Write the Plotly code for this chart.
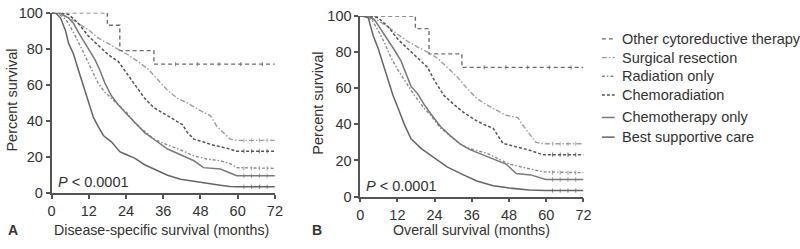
import plotly.graph_objects as go

# ---------------- data ----------------
groups = ["Other cytoreductive therapy", "Surgical resection", "Radiation only",
          "Chemoradiation", "Chemotherapy only", "Best supportive care"]

# Panel A: disease-specific survival
a_other_t = [0, 18, 18, 22, 22, 33, 33, 72]
a_other_v = [100, 100, 93, 93, 79, 79, 71.5, 71.5]

a_surg_t = [0, 2.3, 5.5, 8.7, 11.9, 15, 18.3, 21.5, 24.6, 27.8, 31, 34.2, 37.4, 40.6, 43.8, 48, 51.2, 53.3, 55.4, 57.6, 59.7, 72]
a_surg_v = [100, 99.5, 97.4, 94, 90.5, 86, 82.8, 80, 76.7, 73, 69, 63, 57, 52.6, 50, 45.7, 43, 37, 33.6, 30, 29.3, 29.3]

a_rad_t = [0, 2.5, 4.5, 6.6, 8.7, 10.8, 12.4, 15, 17.2, 20.4, 22.5, 24.6, 26.8, 30, 33, 37.4, 41.6, 45.9, 50, 54.4, 57.6, 59.7, 72]
a_rad_v = [100, 99, 96.5, 90.5, 83.6, 76, 70, 61, 56, 51, 47.4, 44, 39, 34.5, 30, 26.7, 24, 20.7, 19, 18, 16.4, 14.2, 13.8]

a_crt_t = [0, 3, 5.5, 8.7, 11.9, 15, 18.3, 21.5, 23.6, 26.8, 30, 33, 36.3, 39.5, 42.2, 43.8, 45.9, 49, 52, 56.5, 59.7, 72]
a_crt_v = [100, 99.7, 99, 94, 87, 82, 76.7, 73, 68, 60, 52.6, 47.4, 44, 40.5, 38, 33.6, 30, 28.4, 26.7, 25, 23.3, 23.3]

a_chemo_t = [0, 3, 5.5, 7.1, 8.7, 10.8, 12.4, 14, 15.6, 17.2, 19.3, 21.5, 23.6, 26.8, 30, 34.2, 37.4, 41.6, 45.9, 49, 54.4, 57.6, 59.7, 72]
a_chemo_v = [100, 99.5, 97, 94, 89, 83, 78, 74, 68, 61, 54, 49, 45, 39, 33.6, 28.4, 24.5, 21.3, 18, 14.2, 13.4, 11.2, 9.7, 9.7]

a_bsc_t = [0, 1.5, 2.9, 4.5, 5.5, 7.1, 8.7, 10.6, 12, 13.5, 15, 16.7, 19.3, 22, 24, 26.8, 30, 34, 37.4, 41.6, 48, 54.4, 57.5, 59.8, 72]
a_bsc_v = [100, 99.5, 97, 90, 83, 77, 68, 58, 51, 42, 37, 32, 28.5, 23, 21.5, 19.5, 15.8, 12.8, 10, 7.8, 6, 4.5, 3.8, 3.6, 3.6]

# Panel B: overall survival
b_other_t = [0, 17.8, 17.8, 22.2, 22.2, 32.8, 32.8, 72]
b_other_v = [100, 100, 93, 93, 79, 79, 71.5, 71.5]

b_surg_t = [0, 2.6, 5.8, 9, 12.2, 15.3, 18.5, 21.7, 24.9, 28, 31.2, 34.4, 37.6, 40.7, 43.9, 47, 50.8, 52.4, 56.6, 59, 72]
b_surg_v = [100, 99.5, 97.4, 94, 89.7, 86, 82.8, 80, 76.7, 71.6, 66.4, 60, 54.3, 50.9, 48, 45, 43.8, 39.6, 30.1, 29.2, 29.2]

b_rad_t = [0, 2, 3.7, 5.8, 7.9, 10, 12.2, 14.8, 17.5, 20.6, 22.8, 25.9, 29.1, 32.3, 35.4, 40.8, 48, 54, 58.8, 72]
b_rad_v = [100, 99.5, 98, 92, 85, 76.7, 70, 63, 56, 49, 44.8, 38, 33.6, 29, 26.5, 24, 18, 15.5, 13.7, 13.2]

b_crt_t = [0, 3, 5.8, 9, 12.2, 15.3, 18.5, 21.7, 23.8, 27, 30.2, 33.3, 36.5, 39.7, 42.9, 46, 50.3, 54, 58.8, 72]
b_crt_v = [100, 99.7, 99, 94, 87, 82, 76.7, 71.6, 64.7, 56, 51, 46.6, 43, 40, 37.8, 29.5, 27.5, 26, 23.2, 23.2]

b_chemo_t = [0, 3, 4.8, 6.9, 9, 11.1, 13.2, 14.8, 16.4, 18.5, 20.6, 22.8, 25.9, 29.1, 32.3, 35.4, 40.8, 47, 50.3, 55, 59.8, 72]
b_chemo_v = [100, 99.5, 97.4, 92, 87, 81, 75, 68, 61, 57, 51, 45.7, 38.8, 33.6, 29, 26, 22.3, 18, 12.8, 12, 9.4, 9.4]

b_bsc_t = [0, 1.5, 2.6, 4.2, 5.8, 7.4, 9, 10.6, 12.2, 14.3, 16.4, 19.6, 23.8, 28, 33.3, 37.6, 42.9, 48.1, 54.5, 59.8, 72]
b_bsc_v = [100, 99.7, 99, 89, 82, 73, 64.7, 56, 49, 39.7, 32, 26.7, 21.6, 16.4, 12, 8.6, 6, 4.7, 3.6, 3.3, 3.3]

# censoring tick times seen on the flat tails (same for both panels)
tail_censor_t = [62, 64.5, 67, 69.5]
other_censor_t = [40, 47, 54, 61, 68]

x_ticks = [0, 12, 24, 36, 48, 60, 72]
y_ticks = [0, 20, 40, 60, 80, 100]
x_title_a = "Disease-specific survival (months)"
x_title_b = "Overall survival (months)"
y_title = "Percent survival"
p_text = "<i>P</i> < 0.0001"

# ---------------- styles ----------------
styles = {
    "Other cytoreductive therapy": dict(color="#6f6f6f", dash="4px,3px", width=1.4),
    "Surgical resection": dict(color="#a0a0a0", dash="5px,2px,1.5px,2px", width=1.4),
    "Radiation only": dict(color="#8a8a8a", dash="3px,2px,1.5px,2px", width=1.4),
    "Chemoradiation": dict(color="#555555", dash="3px,2px", width=1.5),
    "Chemotherapy only": dict(color="#7a7a7a", dash="solid", width=1.5),
    "Best supportive care": dict(color="#666666", dash="solid", width=1.5),
}

panel_a = [(a_other_t, a_other_v), (a_surg_t, a_surg_v), (a_rad_t, a_rad_v),
           (a_crt_t, a_crt_v), (a_chemo_t, a_chemo_v), (a_bsc_t, a_bsc_v)]
panel_b = [(b_other_t, b_other_v), (b_surg_t, b_surg_v), (b_rad_t, b_rad_v),
           (b_crt_t, b_crt_v), (b_chemo_t, b_chemo_v), (b_bsc_t, b_bsc_v)]

fig = go.Figure()
for panel, xa, ya in [(panel_a, "x", "y"), (panel_b, "x2", "y2")]:
    for name, (t, v) in zip(groups, panel):
        st = styles[name]
        fig.add_trace(go.Scatter(x=t, y=v, mode="lines", line=st,
                                 showlegend=False, xaxis=xa, yaxis=ya, hoverinfo="skip"))
        ct = other_censor_t if name == groups[0] else tail_censor_t
        fig.add_trace(go.Scatter(x=ct, y=[v[-1]] * len(ct), mode="markers",
                                 marker=dict(symbol="line-ns", size=3,
                                             line=dict(color=st["color"], width=0.8)),
                                 showlegend=False, xaxis=xa, yaxis=ya, hoverinfo="skip"))

W, H = 800, 249
axis_common = dict(showgrid=False, zeroline=False, showline=True, linecolor="#555555",
                   linewidth=1.5, ticks="outside", ticklen=4, tickwidth=1.5,
                   tickcolor="#555555", tickfont=dict(family="Liberation Sans, Arial", size=14.5, color="#333333"))

fig.update_layout(
    width=W, height=H, margin=dict(l=0, r=0, t=0, b=0),
    paper_bgcolor="white", plot_bgcolor="white",
    xaxis=dict(domain=[48.3 / W, 275 / W], range=[0, 72], tickvals=x_ticks, anchor="y", **axis_common),
    yaxis=dict(domain=[1 - 198 / H, 1 - 5 / H], range=[0, 100], tickvals=y_ticks, anchor="x", **axis_common),
    xaxis2=dict(domain=[361.6 / W, 588.3 / W], range=[0, 72], tickvals=x_ticks, anchor="y2", **axis_common),
    yaxis2=dict(domain=[1 - 201.5 / H, 1 - 8.5 / H], range=[0, 100], tickvals=y_ticks, anchor="x2", **axis_common),
)

font = dict(family="Liberation Sans, Arial", color="#333333")
ann = []
def px(x, y):
    return x / W, 1 - y / H

for (x, y), text in [(px(160, 237), x_title_a), (px(475, 237), x_title_b)]:
    ann.append(dict(x=x, y=y, xref="paper", yref="paper", text=text, showarrow=False,
                    font=dict(size=14.2, **font), xanchor="center", yanchor="middle"))
for (x, y), text in [(px(9, 237), "<b>A</b>"), (px(318, 237), "<b>B</b>")]:
    ann.append(dict(x=x, y=y, xref="paper", yref="paper", text=text, showarrow=False,
                    font=dict(size=14, **font), xanchor="center", yanchor="middle"))
for (x, y) in [px(8, 98), px(319, 102)]:
    ann.append(dict(x=x, y=y, xref="paper", yref="paper", text=y_title, showarrow=False,
                    textangle=-90, font=dict(size=14.5, **font), xanchor="center", yanchor="middle"))
for xr, yr in [("x", "y"), ("x2", "y2")]:
    ann.append(dict(x=1.3, y=6, xref=xr, yref=yr, text=p_text, showarrow=False,
                    font=dict(size=14.5, **font), xanchor="left", yanchor="middle"))

# manual legend
shapes = []
leg_rows = [33, 53, 73, 93, 117, 138]
for name, ry in zip(groups, leg_rows):
    st = styles[name]
    x0, y0 = px(607, ry)
    x1, _ = px(620, ry)
    shapes.append(dict(type="line", xref="paper", yref="paper", x0=x0, x1=x1, y0=y0, y1=y0,
                       line=dict(color=st["color"], dash=st["dash"], width=st["width"])))
    tx, ty = px(625, ry)
    ann.append(dict(x=tx, y=ty, xref="paper", yref="paper", text=name, showarrow=False,
                    font=dict(size=14.5, **font), xanchor="left", yanchor="middle"))

fig.update_layout(annotations=ann, shapes=shapes)
fig.write_html("out.html", config={"displayModeBar": False},
               post_script="document.body.style.margin='0';document.body.style.overflow='hidden';")
